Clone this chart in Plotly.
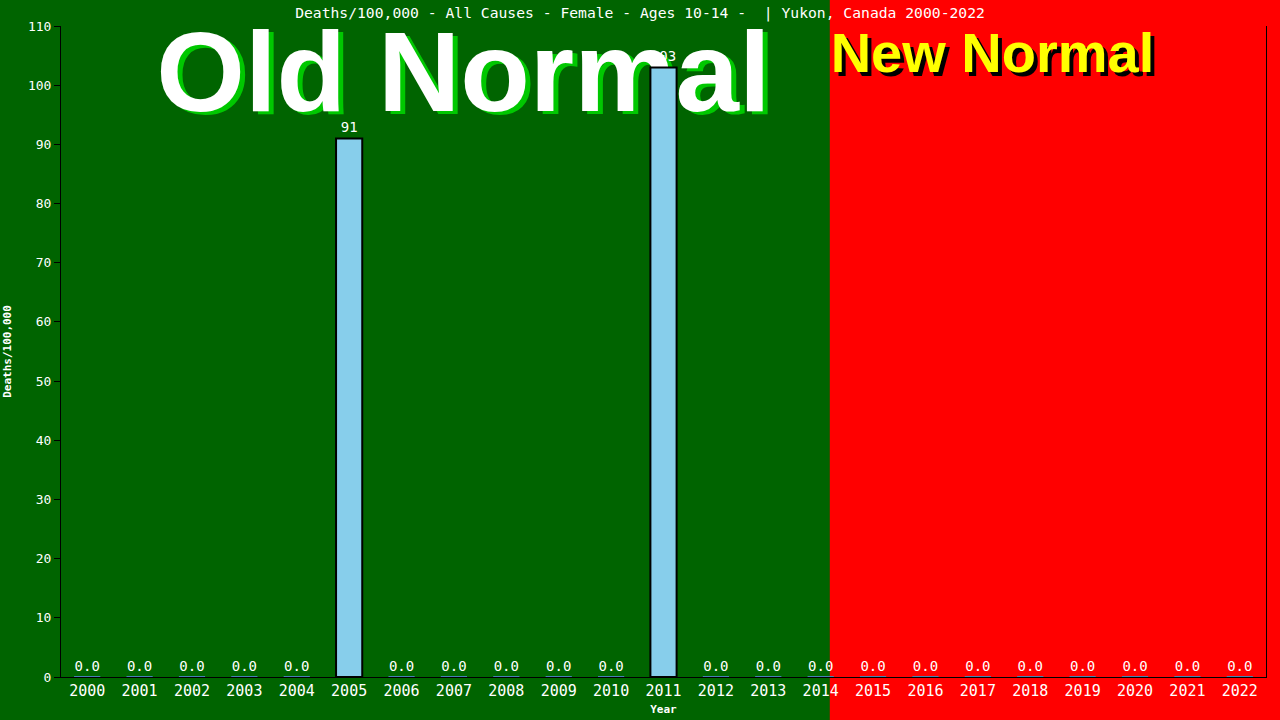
import plotly.graph_objects as go

years = [str(y) for y in range(2000, 2023)]
deaths = [0, 0, 0, 0, 0, 91, 0, 0, 0, 0, 0, 103, 0, 0, 0, 0, 0, 0, 0, 0, 0, 0, 0]
labels = ["0.0" if v == 0 else str(v) for v in deaths]
y_ticks = list(range(0, 111, 10))

title = "Deaths/100,000 - All Causes - Female - Ages 10-14 -  | Yukon, Canada 2000-2022"

mono = "DejaVu Sans Mono"
edge = ["black" if v > 0 else "#4682b4" for v in deaths]
W, H = 1205, 651  # plot area in px, used for shadow offsets

fig = go.Figure()

# big captions go on the base axes so the bars are drawn over them
def caption(txt, x, y, size, col, shadow, dx, dy):
    for xx, yy, c in [(x + dx / W, y - dy / H, shadow), (x, y, col)]:
        fig.add_trace(go.Scatter(
            x=[xx], y=[yy], mode="text", text=[txt], textposition="middle center",
            textfont=dict(family="Liberation Sans", size=size, color=c, weight="bold"),
            cliponaxis=False, hoverinfo="skip", xaxis="x", yaxis="y",
        ))

caption("Old Normal", 0.334, 0.914, 114, "white", "#00c800", 5, 3)
caption("New Normal", 0.773, 0.951, 56, "#ffff00", "black", 4, 4)

fig.add_trace(go.Bar(
    x=years, y=deaths, text=labels, textposition="outside",
    textfont=dict(family=mono, size=14, color="white"),
    marker=dict(color="#87ceeb", line=dict(color=edge, width=2)),
    width=0.5, cliponaxis=False, hoverinfo="skip", xaxis="x2", yaxis="y2",
))

# red background for the "new normal" side
fig.add_shape(type="rect", xref="paper", yref="paper", x0=0.638, x1=1.05,
              y0=-0.2, y1=1.2, fillcolor="#ff0000", line_width=0, layer="below")

fig.update_layout(
    width=1280, height=720,
    margin=dict(l=61, r=14, t=26, b=43),
    paper_bgcolor="#006400", plot_bgcolor="#006400",
    showlegend=False,
    title=dict(text=title, x=0.5, xanchor="center", y=0.982, yanchor="middle",
               font=dict(family=mono, size=14.7, color="white")),
    xaxis=dict(range=[0, 1], visible=False, fixedrange=True),
    yaxis=dict(range=[0, 1], visible=False, fixedrange=True),
    xaxis2=dict(
        overlaying="x", type="category", showgrid=False, showline=True,
        linecolor="black", linewidth=1, ticks="", automargin=False,
        tickfont=dict(family=mono, size=15, color="white"),
        title=dict(text="<b>Year</b>", font=dict(family=mono, size=11, color="white"), standoff=6),
    ),
    yaxis2=dict(
        overlaying="y", range=[0, 110], tickvals=y_ticks, showgrid=False, zeroline=False,
        showline=True, linecolor="black", linewidth=1, mirror=True, automargin=False,
        ticks="outside", ticklen=6, tickcolor="black",
        tickfont=dict(family=mono, size=13, color="white"),
        title=dict(text="<b>Deaths/100,000</b>", font=dict(family=mono, size=11, color="white"), standoff=14),
    ),
)

fig.write_html("out.html", config={"displayModeBar": False},
               post_script="document.body.style.margin='0';")
